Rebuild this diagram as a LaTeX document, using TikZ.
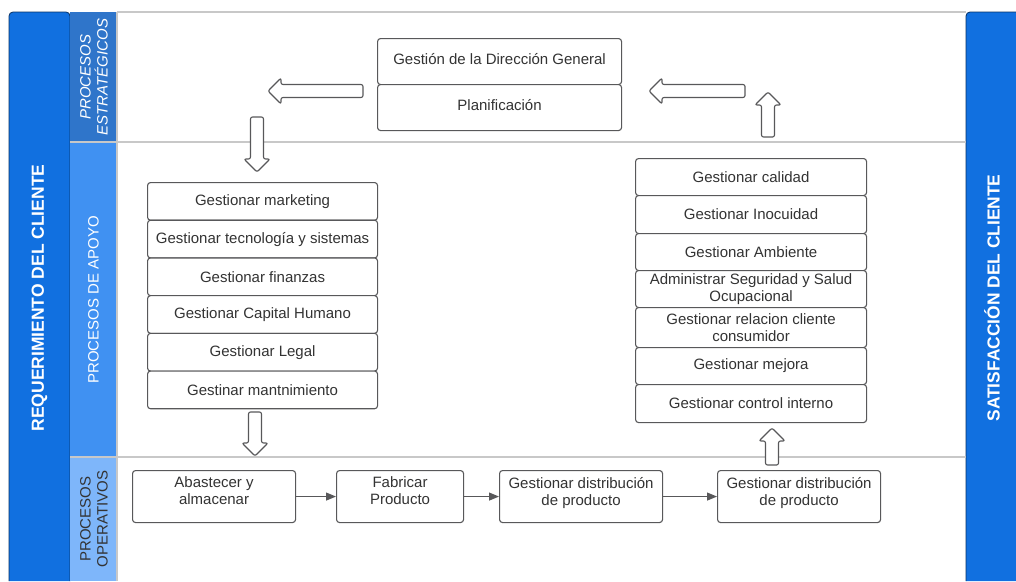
\documentclass[tikz,border=0pt]{standalone}
\usepackage{fontspec}
\setmainfont{Liberation Sans}
\usetikzlibrary{arrows.meta}
\definecolor{colmain}{RGB}{17,112,224}
\definecolor{stratblue}{RGB}{47,117,202}
\definecolor{apoyoblue}{RGB}{64,145,242}
\definecolor{operblue}{RGB}{126,182,250}
\definecolor{boxline}{RGB}{88,88,90}
\definecolor{txtgray}{RGB}{51,51,51}
\definecolor{lanegray}{RGB}{200,200,200}

\begin{document}
\begin{tikzpicture}[x=1pt,y=-1pt,
    procbox/.style={draw=boxline, fill=white, line width=1.1pt, rounded corners=3pt, text=txtgray,
        align=center, inner sep=1pt, font=\fontsize{15}{17}\selectfont},
    flow/.style={draw=boxline, line width=1.1pt, -{Triangle[length=10pt,width=8pt]}},
    arrowbody/.style={draw=boxline, fill=white, line width=1.1pt, rounded corners=2pt},
    lane/.style={draw=lanegray, line width=1.2pt},
    pics/blockarrow/.style={code={
        \draw[arrowbody] (0,-6.5) -- (#1-13,-6.5) -- (#1-13,-13) -- (#1,0) -- (#1-13,13)
            -- (#1-13,6.5) -- (0,6.5) -- cycle;}}]
    \useasboundingbox (0,0) rectangle (1016,581);
    \fill[white] (0,0) rectangle (1016,581);

    \fill[colmain] (9,581) [rounded corners=4pt] -- (9,12) -- (70,12) [sharp corners] -- (70,581) -- cycle;
    \draw[colmain!45!black, line width=0.8pt] (9,581) [rounded corners=4pt] -- (9,12) -- (70,12) [sharp corners] -- (70,581);
    \fill[colmain] (966,581) [rounded corners=4pt] -- (966,12) [sharp corners] -- (1016,12) -- (1016,581) -- cycle;
    \draw[colmain!45!black, line width=0.8pt] (966,581) [rounded corners=4pt] -- (966,12) [sharp corners] -- (1016,12);

    \fill[stratblue] (70,12) rectangle (117,142);
    \fill[apoyoblue] (70,142) rectangle (117,457);
    \fill[operblue] (70,457) rectangle (117,581);
    \draw[lane] (117,12) -- (966,12);
    \draw[lane] (70,142) -- (966,142);
    \draw[lane] (70,457) -- (966,457);
    \draw[lane] (117,12) -- (117,581);

    \node[rotate=90, text=white, font=\bfseries\fontsize{17.5}{20}\selectfont] (req) at (39.5,298) {REQUERIMIENTO DEL CLIENTE};
    \node[rotate=90, text=white, font=\bfseries\fontsize{17.4}{20}\selectfont] (sat) at (992,298) {SATISFACCIÓN DEL CLIENTE};
    \node[rotate=90, text=white, align=center, font=\itshape\fontsize{15}{17}\selectfont] (lstrat) at (94,77) {PROCESOS\\ESTRATÉGICOS};
    \node[rotate=90, text=white, font=\fontsize{15}{17}\selectfont] (lapoyo) at (93.5,300) {PROCESOS DE APOYO};
    \node[rotate=90, text=txtgray, align=center, font=\fontsize{15}{17}\selectfont] (loper) at (94,519) {PROCESOS\\OPERATIVOS};

    \node[procbox, text depth=6pt, anchor=north west, minimum width=244pt, minimum height=46pt] (dir) at (377,38) {Gestión de la Dirección General};
    \node[procbox, text depth=6pt, anchor=north west, minimum width=244pt, minimum height=46pt] (plan) at (377,84) {Planificación};

    \foreach \txt [count=\i] in {Gestionar marketing, Gestionar tecnología y sistemas, Gestionar finanzas,
            Gestionar Capital Humano, Gestionar Legal, Gestinar mantnimiento}
        \node[procbox, anchor=north west, minimum width=230pt, minimum height=37.7pt] (apL\i) at (147,{182+37.7*(\i-1)}) {\txt};

    \foreach \y/\h/\txt [count=\i] in {158/37/Gestionar calidad, 195/38/Gestionar Inocuidad, 233/37/Gestionar Ambiente,
            270/37/{Administrar Seguridad y Salud\\Ocupacional}, 307/40/{Gestionar relacion cliente\\consumidor},
            347/37/Gestionar mejora, 384/38/Gestionar control interno}
        \node[procbox, anchor=north west, minimum width=231pt, minimum height=\h pt] (apR\i) at (635,\y) {\txt};

    \node[procbox, text depth=11pt, anchor=north west, minimum width=163pt, minimum height=52pt] (op1) at (132,470) {Abastecer y\\almacenar};
    \node[procbox, text depth=11pt, anchor=north west, minimum width=127pt, minimum height=52pt] (op2) at (336,470) {Fabricar\\Producto};
    \node[procbox, text depth=11pt, anchor=north west, minimum width=163pt, minimum height=52pt] (op3) at (499,470) {Gestionar distribución\\de producto};
    \node[procbox, text depth=11pt, anchor=north west, minimum width=163pt, minimum height=52pt] (op4) at (717,470) {Gestionar distribución\\de producto};

    \draw[flow] (op1) -- (op2);
    \draw[flow] (op2) -- (op3);
    \draw[flow] (op3) -- (op4);

    \pic[rotate=180] at (363,91) {blockarrow=95};
    \pic[rotate=-90] at (257,117) {blockarrow=55};
    \pic[rotate=180] at (745,91) {blockarrow=96};
    \pic[rotate=90] at (768,137) {blockarrow=45};
    \pic[rotate=-90] at (255,412) {blockarrow=44};
    \pic[rotate=90] at (772,465) {blockarrow=37};
\end{tikzpicture}
\end{document}
